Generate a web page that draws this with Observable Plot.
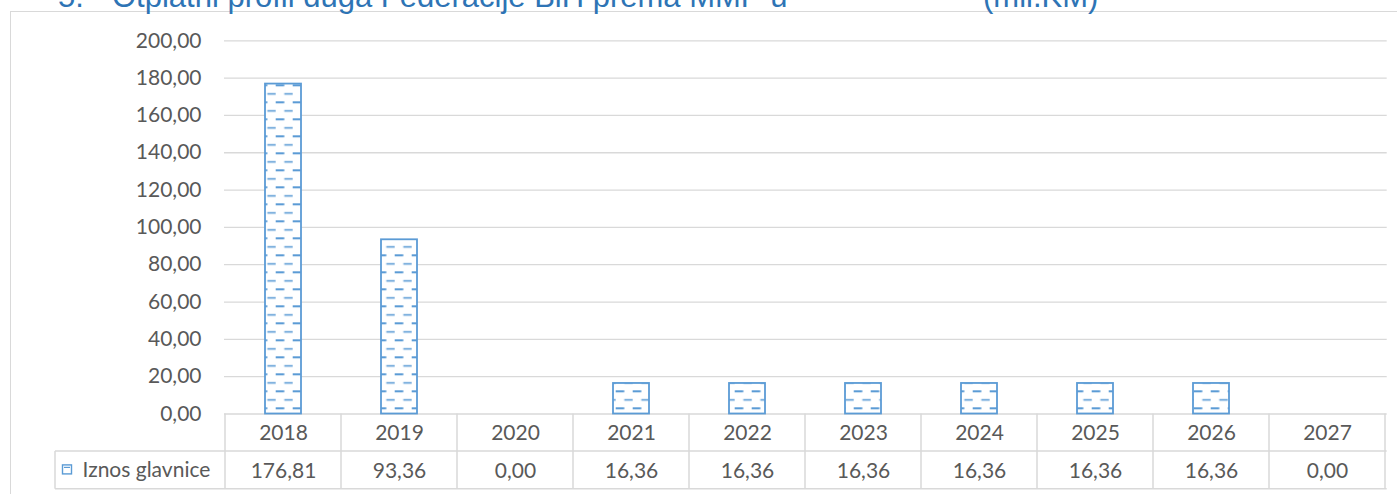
<!DOCTYPE html>
<html>
<head>
<meta charset="utf-8">
<script src="https://cdn.jsdelivr.net/npm/d3@7"></script>
<script src="https://cdn.jsdelivr.net/npm/@observablehq/plot@0.6"></script>
<style>
html, body { margin: 0; padding: 0; background: #fff; overflow: hidden; width: 1397px; height: 494px; }
#frame { position: absolute; left: 9.5px; top: 10.5px; width: 1500px; height: 600px; border: 1.3px solid #D9D9D9; box-sizing: border-box; }
.t { position: absolute; top: -19px; font-family: "Liberation Sans", Arial, sans-serif; font-size: 31px; line-height: 31px; color: #2E74B5; white-space: pre; }
#chart { position: absolute; left: 0; top: 0; }
</style>
</head>
<body>
<div id="frame"></div>
<div class="t" style="left:58px">5.</div>
<div class="t" style="left:112px">Otplatni profil duga Federacije BiH prema MMF-u</div>
<div class="t" style="left:983px">(mil.KM)</div>
<div id="chart"></div>
<script>
// ---- data ----
const years = ["2018", "2019", "2020", "2021", "2022", "2023", "2024", "2025", "2026", "2027"];
const values = [176.81, 93.36, 0.00, 16.36, 16.36, 16.36, 16.36, 16.36, 16.36, 0.00];
const yTicks = [0, 20, 40, 60, 80, 100, 120, 140, 160, 180, 200];
const seriesName = "Iznos glavnice";

const BLUE = "#5B9BD5";
const GRID = "#D9D9D9";
const TEXT = "#595959";

const locale = d3.formatLocale({decimal: ",", thousands: ".", grouping: [3], currency: ["", ""]});
const fmt = locale.format(".2f");

const data = years.map((year, i) => ({year, value: values[i]}));

function tableMark(index, scales, vals, dims) {
  const x = scales.x;
  const bw = x.bandwidth();
  const left = dims.marginLeft;
  const right = dims.width - dims.marginRight;
  const y0 = dims.height - dims.marginBottom;
  const rowH = 37.6;
  const labelLeft = left - 169;
  const g = d3.create("svg:g");
  const lines = g.append("g").attr("stroke", GRID).attr("stroke-width", 1.5).attr("fill", "none");
  const bounds = years.map(v => x(v)).concat([x(years[years.length - 1]) + bw]);
  bounds.forEach(b => {
    lines.append("line").attr("x1", b).attr("x2", b).attr("y1", y0).attr("y2", y0 + 2 * rowH);
  });
  lines.append("line").attr("x1", labelLeft).attr("x2", right).attr("y1", y0 + rowH).attr("y2", y0 + rowH);
  lines.append("line").attr("x1", labelLeft).attr("x2", right).attr("y1", y0 + 2 * rowH).attr("y2", y0 + 2 * rowH);
  lines.append("line").attr("x1", labelLeft).attr("x2", labelLeft).attr("y1", y0 + rowH).attr("y2", y0 + 2 * rowH);
  // legend key
  const cy = y0 + 1.5 * rowH;
  g.append("rect").attr("x", labelLeft + 7.5).attr("y", cy - 5).attr("width", 9).attr("height", 9)
    .attr("fill", "#fff").attr("stroke", BLUE).attr("stroke-width", 1.4);
  g.append("line").attr("x1", labelLeft + 9).attr("x2", labelLeft + 15).attr("y1", cy - 2.5).attr("y2", cy - 2.5)
    .attr("stroke", BLUE).attr("stroke-width", 1.2);
  g.append("text").attr("x", labelLeft + 27.5).attr("y", cy).attr("dy", "0.32em")
    .attr("fill", TEXT).attr("text-anchor", "start").text(seriesName);
  return g.node();
}

const plot = Plot.plot({
  width: 1397,
  height: 494,
  marginTop: 40.3,
  marginBottom: 80.5,
  marginLeft: 224,
  marginRight: 10.3,
  style: {fontFamily: "Lato, 'Open Sans', sans-serif", fontSize: "21px", color: TEXT, background: "transparent", overflow: "visible"},
  x: {domain: years, padding: 0, axis: null},
  y: {domain: [0, 200], ticks: yTicks, tickFormat: fmt, label: null, tickSize: 0, tickPadding: 23},
  marks: [
    Plot.ruleY(yTicks, {stroke: GRID, strokeWidth: 1.3}),
    Plot.barY(data, {x: "year", y: "value", fill: "url(#dashPat)", stroke: BLUE, strokeWidth: 1.8, insetLeft: 40, insetRight: 40}),
    tableMark,
    Plot.text(data, {x: "year", text: "year", frameAnchor: "bottom", lineAnchor: "middle", dy: 19, fill: TEXT}),
    Plot.text(data, {x: "year", text: d => fmt(d.value), frameAnchor: "bottom", lineAnchor: "middle", dy: 56.8, fill: TEXT})
  ]
});

const svgEl = plot.tagName.toLowerCase() === "svg" ? plot : plot.querySelector("svg");
d3.select(svgEl).insert("defs", ":first-child").html(
  `<pattern id="dashPat" patternUnits="userSpaceOnUse" x="3.7" y="16.3" width="17" height="17">
     <rect x="0" y="0" width="17" height="17" fill="#fff"/>
     <line x1="0" x2="8.6" y1="1" y2="1" stroke="${BLUE}" stroke-width="2.1"/>
     <line x1="8.6" x2="17" y1="9.6" y2="9.6" stroke="${BLUE}" stroke-width="1.6"/>
   </pattern>`
);
document.getElementById("chart").appendChild(plot);
</script>
</body>
</html>
